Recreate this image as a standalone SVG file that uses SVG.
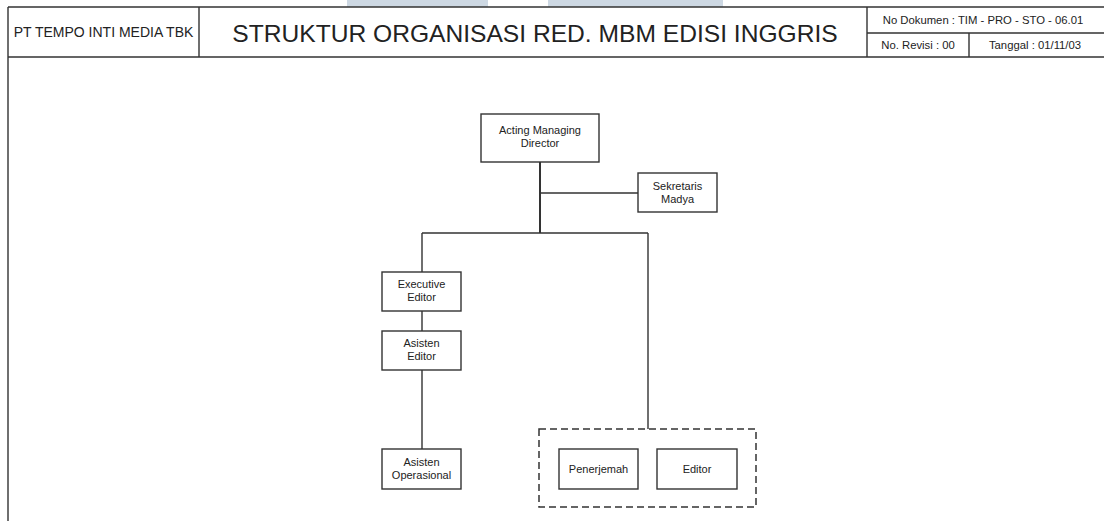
<svg xmlns="http://www.w3.org/2000/svg" width="1104" height="521" viewBox="0 0 1104 521">
<style>
.ln{stroke:#333;stroke-width:1.4;fill:none}
.bx{fill:#fff;stroke:#333;stroke-width:1.4}
.t{font-family:"Liberation Sans",Arial,sans-serif;fill:#222;text-anchor:middle}
.n{font-size:11px}
.h{font-size:11.3px}
</style>
<rect width="1104" height="521" fill="#fff"/>
<g id="watermark" fill="#cdd8e3">
<rect x="347" y="0" width="141" height="7"/>
<rect x="548" y="0" width="175" height="7"/>
</g>
<g id="header">
<path class="ln" d="M8,7H1104M8,57H1104M867,33H1104M8,7V521M199,7V57M867,7V57M969,33V57"/>
<text class="t" x="103.5" y="37" font-size="14">PT TEMPO INTI MEDIA TBK</text>
<text class="t" x="535" y="42" font-size="24.6">STRUKTUR ORGANISASI RED. MBM EDISI INGGRIS</text>
<text class="t h" x="983" y="24">No Dokumen : TIM - PRO - STO - 06.01</text>
<text class="t h" x="918" y="49">No. Revisi : 00</text>
<text class="t h" x="1035" y="49">Tanggal : 01/11/03</text>
</g>
<g id="connectors">
<path class="ln" d="M540,162V233" style="stroke-width:2"/>
<path class="ln" d="M540,193H638M422,233H648M422,233V272M422,311V331M422,370V449M648,233V429"/>
</g>
<g id="acting-managing-director">
<rect class="bx" x="481" y="114" width="118" height="48"/>
<text class="t n" x="540" y="134">Acting Managing</text>
<text class="t n" x="540" y="147">Director</text>
</g>
<g id="sekretaris-madya">
<rect class="bx" x="638" y="173" width="79" height="39"/>
<text class="t n" x="677.5" y="190">Sekretaris</text>
<text class="t n" x="677.5" y="203">Madya</text>
</g>
<g id="executive-editor">
<rect class="bx" x="382" y="272" width="79" height="39"/>
<text class="t n" x="421.5" y="288">Executive</text>
<text class="t n" x="421.5" y="301">Editor</text>
</g>
<g id="asisten-editor">
<rect class="bx" x="382" y="331" width="79" height="39"/>
<text class="t n" x="421.5" y="347">Asisten</text>
<text class="t n" x="421.5" y="360">Editor</text>
</g>
<g id="asisten-operasional">
<rect class="bx" x="382" y="449" width="79" height="40"/>
<text class="t n" x="421.5" y="466">Asisten</text>
<text class="t n" x="421.5" y="479">Operasional</text>
</g>
<g id="group-translation">
<rect x="539" y="429" width="217" height="78" fill="none" stroke="#333" stroke-width="1.5" stroke-dasharray="7,4"/>
</g>
<g id="penerjemah">
<rect class="bx" x="559" y="449" width="79" height="40"/>
<text class="t n" x="598.5" y="473">Penerjemah</text>
</g>
<g id="editor">
<rect class="bx" x="657" y="449" width="80" height="40"/>
<text class="t n" x="697" y="473">Editor</text>
</g>
</svg>
